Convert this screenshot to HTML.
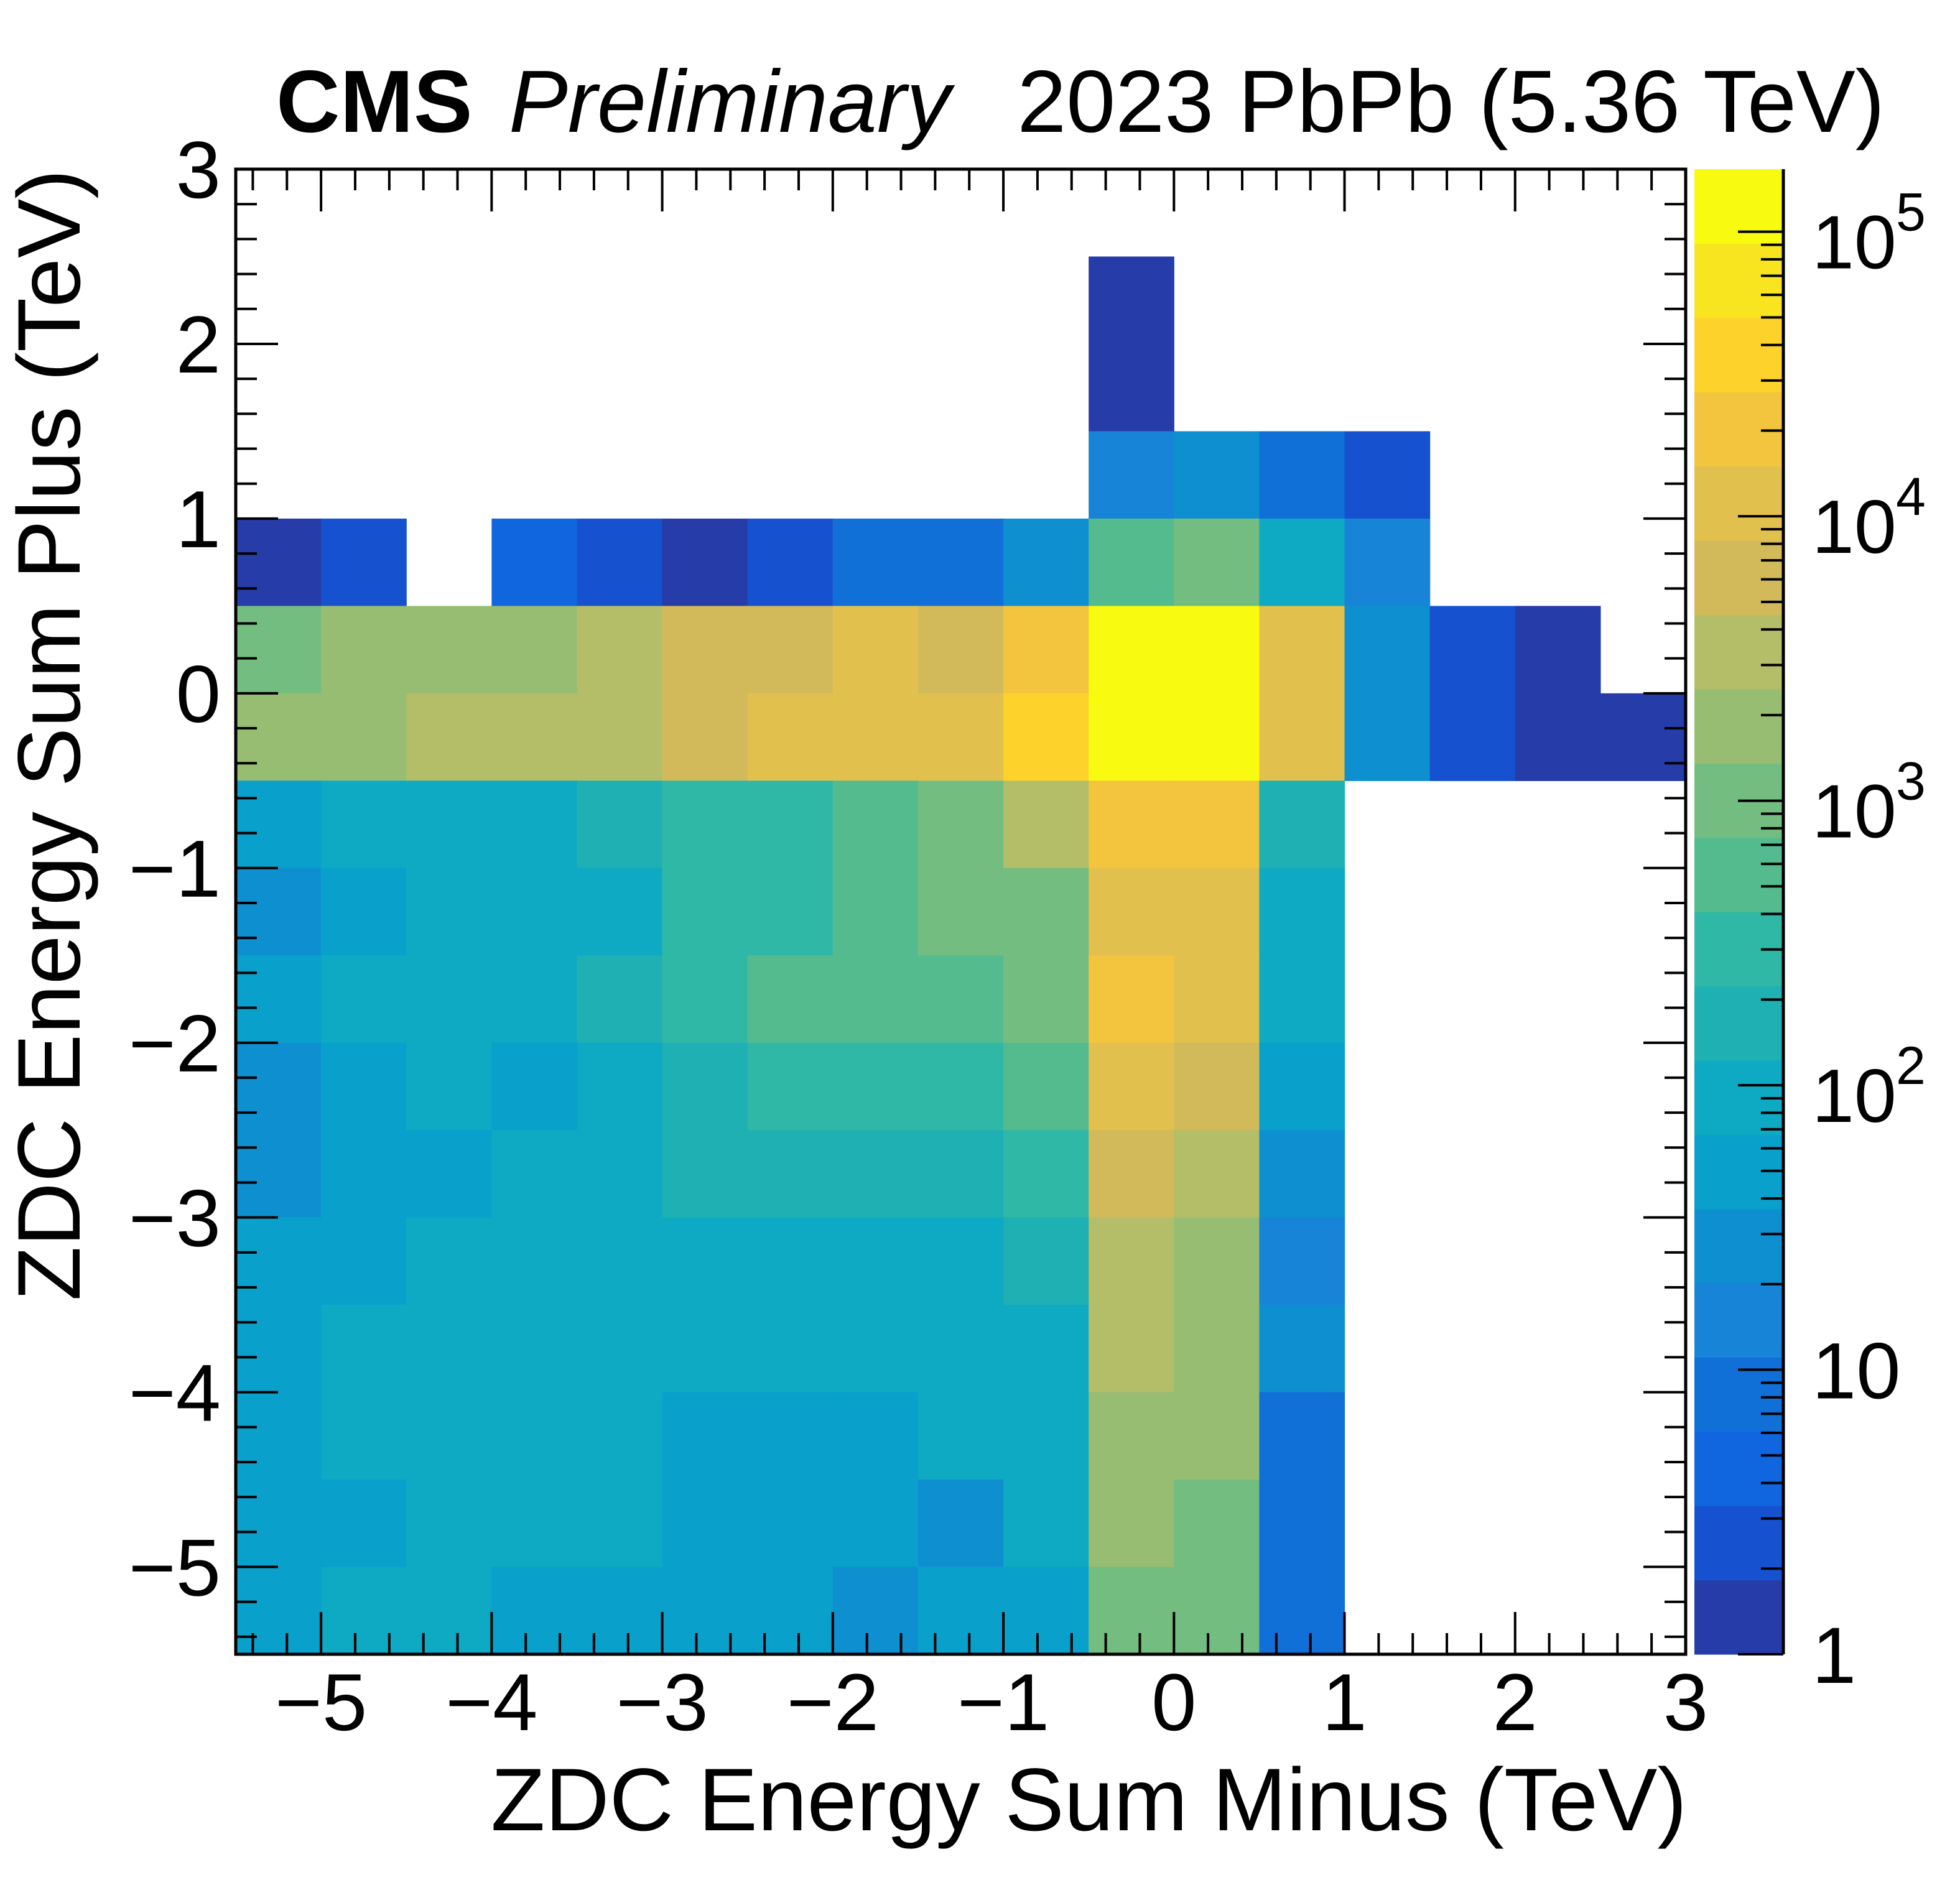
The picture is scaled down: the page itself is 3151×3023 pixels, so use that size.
<!DOCTYPE html>
<html><head><meta charset="utf-8"><title>ZDC Energy Sum 2D</title>
<style>html,body{margin:0;padding:0;background:#fff}svg{display:block}</style></head>
<body>
<svg id="chart" xmlns="http://www.w3.org/2000/svg" width="3151" height="3023" viewBox="0 0 3151 3023" font-family="'Liberation Sans', Arial, sans-serif">
<rect width="3151" height="3023" fill="#fff"/>
<g id="cells"></g>
<g id="cbar"></g>
<g id="axes"></g>
<text x="444" y="212" font-size="142" font-weight="bold">CMS</text>
<text x="818" y="212" font-size="142" font-style="italic">Preliminary</text>
<text x="3030" y="212" font-size="142" text-anchor="end">2023 PbPb (5.36 TeV)</text>
<text x="2712" y="2943" font-size="143" text-anchor="end">ZDC Energy Sum Minus (TeV)</text>
<text transform="translate(128,272) rotate(-90)" font-size="143" text-anchor="end">ZDC Energy Sum Plus (TeV)</text>
</svg>
<script>
// ---- data ----
const xEdgesMin = -5.5, xBinW = 0.5, nX = 17;
const yEdgesMax = 3, yBinW = 0.5, nY = 17;
// rows from top (y 2.5..3) to bottom (y -5.5..-5); columns x -5.5..3
const counts = [
 [0,0,0,0,0,0,0,0,0,0,0,0,0,0,0,0,0],
 [0,0,0,0,0,0,0,0,0,0,1,0,0,0,0,0,0],
 [0,0,0,0,0,0,0,0,0,0,1,0,0,0,0,0,0],
 [0,0,0,0,0,0,0,0,0,0,15,27,8,2,0,0,0],
 [1,2,0,4,2,1,2,8,8,27,550,1000,91,15,0,0,0],
 [1000,1820,1820,1820,3300,6000,6000,11000,6000,20000,120000,120000,11000,27,2,1,0],
 [1820,1820,3300,3300,3300,6000,11000,11000,11000,37000,120000,120000,11000,27,2,1,1],
 [50,91,91,91,166,302,302,550,1000,3300,20000,20000,166,0,0,0,0],
 [27,50,91,91,91,302,302,550,1000,1000,11000,11000,91,0,0,0,0],
 [50,91,91,91,166,302,550,550,550,1000,20000,11000,91,0,0,0,0],
 [27,50,91,50,91,166,302,302,302,550,11000,6000,50,0,0,0,0],
 [27,50,50,91,91,166,166,166,166,302,6000,3300,27,0,0,0,0],
 [50,50,91,91,91,91,91,91,91,166,3300,1820,15,0,0,0,0],
 [50,91,91,91,91,91,91,91,91,91,3300,1820,27,0,0,0,0],
 [50,91,91,91,91,50,50,50,91,91,1820,1820,8,0,0,0,0],
 [50,50,91,91,91,50,50,50,27,91,1820,1000,8,0,0,0,0],
 [50,91,91,50,50,50,50,27,50,50,1000,1000,8,0,0,0,0]
];
const palette = ["#263ca8","#1652cf","#1066de","#1170d8","#1784d7","#0e8fd0","#09a1cb","#0ea9c3","#1eb0b2","#2fb8a5","#54bb8f","#74bd80","#97bd73","#b4bd68","#d2ba5a","#e2c04d","#f3c43e","#fdd22b","#f9e420","#f8fa0f"];
const zMaxLog = 5.22;
const xTickLabels = ["−5","−4","−3","−2","−1","0","1","2","3"];
const xTickValues = [-5,-4,-3,-2,-1,0,1,2,3];
const yTickLabels = ["−5","−4","−3","−2","−1","0","1","2","3"];
const yTickValues = [-5,-4,-3,-2,-1,0,1,2,3];
const zDecades = [0,1,2,3,4,5];

// ---- layout ----
const L=379,R=2710,T=272,B=2660, CBL=2724, CBR=2867;
const xMin=-5.5,xMax=3,yMin=-5.5,yMax=3;
const sx=v=>L+(v-xMin)/(xMax-xMin)*(R-L);
const sy=v=>B-(v-yMin)/(yMax-yMin)*(B-T);
const sz=lv=>B-lv/zMaxLog*(B-T);
const NS="http://www.w3.org/2000/svg";
function mk(tag,attrs,parent){const e=document.createElementNS(NS,tag);for(const k in attrs)e.setAttribute(k,attrs[k]);parent.appendChild(e);return e;}
function colorFor(v){let b=Math.floor(Math.log10(v)/(zMaxLog/palette.length));b=Math.max(0,Math.min(palette.length-1,b));return palette[b];}

const cells=document.getElementById('cells');
counts.forEach((row,r)=>{row.forEach((v,c)=>{ if(v<=0) return;
 const x0=xEdgesMin+c*xBinW, y1=yEdgesMax-r*yBinW;
 const e=mk('rect',{x:sx(x0),y:sy(y1),width:sx(x0+xBinW)-sx(x0)+0.6,height:sy(y1-yBinW)-sy(y1)+0.6,fill:colorFor(v)},cells);
 
 
});});

// color bar
const cb=document.getElementById('cbar');
palette.forEach((col,i)=>{const lo=i*zMaxLog/palette.length,hi=(i+1)*zMaxLog/palette.length;
 const e=mk('rect',{x:CBL,y:sz(hi),width:CBR-CBL,height:sz(lo)-sz(hi)+0.6,fill:col},cb);
 
 
});
mk('line',{x1:CBR,y1:T,x2:CBR,y2:B,stroke:'#000','stroke-width':5},cb);
for(let d=0;d<=5;d++){for(let m=1;m<=9;m++){const lv=d+Math.log10(m); if(lv>zMaxLog) continue;
 const len=m===1?73:36; mk('line',{x1:CBR-len,y1:sz(lv),x2:CBR,y2:sz(lv),stroke:'#000','stroke-width':4},cb);}}
zDecades.forEach(d=>{const y=sz(d);
 let t;
 if(d===0){t=mk('text',{x:2913,y:y+46,'font-size':128},cb);t.textContent='1';}
 else if(d===1){t=mk('text',{x:2913,y:y+46,'font-size':128},cb);t.textContent='10';}
 else {t=mk('text',{x:2913,y:y+59,'font-size':122},cb);t.textContent='10';
   const s=mk('text',{x:3048,y:y-2,'font-size':86},cb);s.textContent=String(d);
   
   }
 
 
});

// axes
const ax=document.getElementById('axes');
mk('rect',{x:L,y:T,width:R-L,height:B-T,fill:'none',stroke:'#000','stroke-width':5},ax);
for(let i=0;i<=42;i++){const v=-5.4+i*0.2; if(v>3.001) break; const isMaj=Math.abs(v-Math.round(v))<1e-6; const len=isMaj?68:34;
 mk('line',{x1:sx(v),y1:B,x2:sx(v),y2:B-len,stroke:'#000','stroke-width':4},ax);
 mk('line',{x1:sx(v),y1:T,x2:sx(v),y2:T+len,stroke:'#000','stroke-width':4},ax);
 mk('line',{x1:L,y1:sy(v),x2:L+len,y2:sy(v),stroke:'#000','stroke-width':4},ax);
 mk('line',{x1:R,y1:sy(v),x2:R-len,y2:sy(v),stroke:'#000','stroke-width':4},ax);
}
xTickValues.forEach((v,i)=>{const t=mk('text',{x:sx(v),y:2782,'font-size':130,'text-anchor':'middle'},ax);t.textContent=xTickLabels[i];
 
 });
yTickValues.forEach((v,i)=>{const t=mk('text',{x:355,y:sy(v)+46,'font-size':130,'text-anchor':'end'},ax);t.textContent=yTickLabels[i];
 
 });
</script>
</body></html>
